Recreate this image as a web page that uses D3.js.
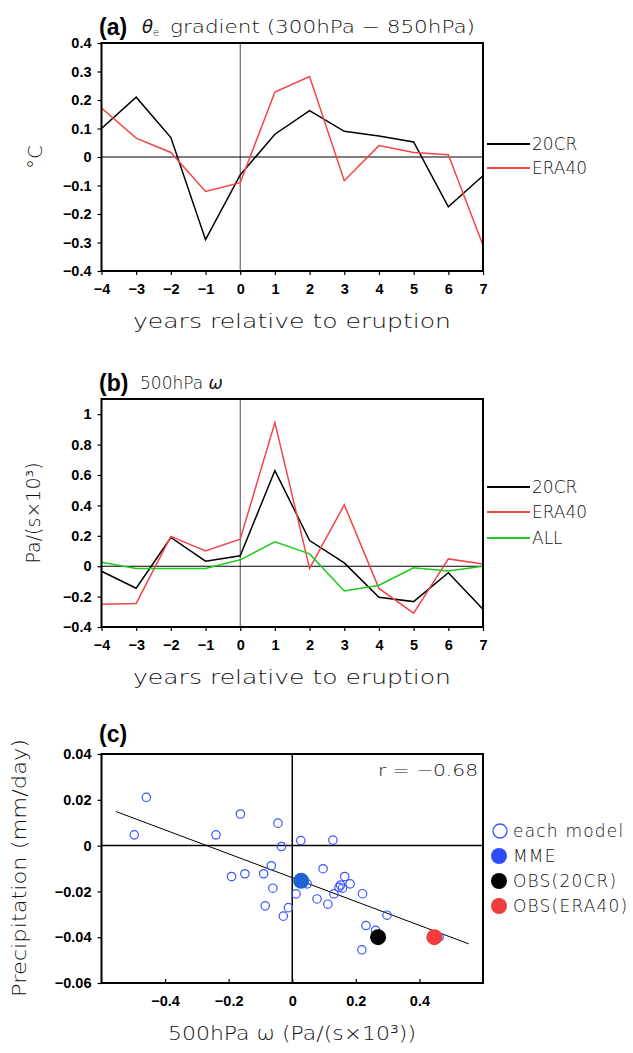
<!DOCTYPE html>
<html><head><meta charset="utf-8">
<script src="https://cdn.jsdelivr.net/npm/d3@7"></script>
<style>
body{margin:0;background:#fff;}
svg{display:block;}
.tick text{font-family:"Liberation Sans",Arial,sans-serif;font-weight:bold;font-size:14.5px;fill:#000;}
.lab{font-family:"DejaVu Sans",sans-serif;font-weight:200;fill:#111;}
</style></head>
<body>
<svg id="chart" width="633" height="1053"></svg>
<script>
// ---------- data ----------
const years = [-4,-3,-2,-1,0,1,2,3,4,5,6,7];
const a20CR  = [0.100, 0.210, 0.068, -0.290, -0.063, 0.080, 0.163, 0.090, 0.074, 0.053, -0.175, -0.066];
const aERA40 = [0.172, 0.066, 0.016, -0.121, -0.090, 0.228, 0.282, -0.083, 0.040, 0.016, 0.008, -0.310];
const b20CR  = [-0.033, -0.145, 0.189, 0.033, 0.068, 0.629, 0.169, 0.022, -0.204, -0.233, -0.043, -0.283];
const bERA40 = [-0.250, -0.245, 0.196, 0.101, 0.178, 0.945, -0.015, 0.404, -0.146, -0.309, 0.048, 0.015];
const bALL   = [0.026, -0.015, -0.015, -0.015, 0.042, 0.160, 0.081, -0.163, -0.125, -0.011, -0.031, 0.000];
const aTicks = [-0.4,-0.3,-0.2,-0.1,0,0.1,0.2,0.3,0.4];
const bTicks = [-0.4,-0.2,0,0.2,0.4,0.6,0.8,1];
const cXTicks = [-0.4,-0.2,0,0.2,0.4];
const cYTicks = [-0.06,-0.04,-0.02,0,0.02,0.04];
const modelOmega = [-0.459,-0.497,-0.163,-0.240,-0.045,-0.034,0.027,0.128,-0.066,0.097,-0.191,-0.149,-0.090,-0.061,0.047,0.165,0.182,0.152,0.147,0.158,0.221,0.131,0.012,0.078,0.112,-0.012,-0.085,-0.028,0.298,0.232,0.262,0.219,0.462];
const modelPrecip = [0.0211,0.0047,0.0138,0.0047,0.0098,-0.0004,0.0022,0.0024,-0.0088,-0.0101,-0.0135,-0.0123,-0.0123,-0.0186,-0.0167,-0.0135,-0.0167,-0.0172,-0.0182,-0.0186,-0.0210,-0.0211,-0.0211,-0.0233,-0.0256,-0.0271,-0.0263,-0.0308,-0.0304,-0.0349,-0.0370,-0.0455,-0.0400];
const mme = [0.028, -0.0154];
const obs20CR = [0.270, -0.0400];
const obsERA40 = [0.447, -0.0400];
const fitLine = [[-0.555, 0.0149], [0.555, -0.0429]];
const rText = "r = \u22120.68";

const svg = d3.select("#chart");
const L = 101.5, R = 483;
const RED = "#f24545", GREEN = "#1ccc1c", BLUE = "#3a55ff";

function lab(x, y, txt, size, opts = {}) {
  const t = svg.append("text").attr("class","lab").attr("x",x).attr("y",y)
    .attr("font-size",size).attr("text-anchor",opts.anchor||"start").text(txt);
  if (opts.len) t.attr("textLength",opts.len).attr("lengthAdjust","spacingAndGlyphs");
  if (opts.ls) t.attr("letter-spacing",opts.ls);
  if (opts.rot) t.attr("transform",`rotate(-90,${x},${y})`);
  return t;
}
function frame(top, bot) {
  svg.append("rect").attr("x",L).attr("y",top).attr("width",R-L).attr("height",bot-top)
    .attr("fill","none").attr("stroke","#000").attr("stroke-width",2);
}
function styleAxis(g){ g.select(".domain").remove(); g.selectAll(".tick line").attr("stroke","#000").attr("stroke-width",1.2); }
function panelTag(y, t){ svg.append("text").attr("x",99).attr("y",y).attr("font-family","Liberation Sans,Arial").attr("font-weight","bold").attr("font-size",23).text(t); }

// ---------- panel a / b line panels ----------
function linePanel(top, bot, ydom, ticks, series, fmt, legendY) {
  const x = d3.scaleLinear().domain([-4,7]).range([L,R]);
  const y = d3.scaleLinear().domain(ydom).range([bot,top]);
  svg.append("line").attr("x1",x(0)).attr("x2",x(0)).attr("y1",top).attr("y2",bot).attr("stroke","#333").attr("stroke-width",0.9);
  svg.append("line").attr("x1",L).attr("x2",R).attr("y1",y(0)).attr("y2",y(0)).attr("stroke","#000").attr("stroke-width",1.1);
  const line = d3.line().x((d,i)=>x(years[i])).y(d=>y(d));
  series.forEach(s => svg.append("path").datum(s.v).attr("d",line).attr("fill","none").attr("stroke",s.c).attr("stroke-width",1.5));
  const gx = svg.append("g").attr("transform",`translate(0,${bot})`)
    .call(d3.axisBottom(x).tickValues(years).tickSize(4).tickPadding(9).tickFormat(d=>d<0?"\u2212"+Math.abs(d):d));
  styleAxis(gx);
  const gy = svg.append("g").attr("transform",`translate(${L},0)`)
    .call(d3.axisLeft(y).tickValues(ticks).tickSize(4).tickPadding(6).tickFormat(fmt));
  styleAxis(gy);
  frame(top, bot);
  lab(292, bot+57, "years relative to eruption", 20, {anchor:"middle", len:318});
  series.forEach((s,i) => {
    const ly = legendY[i];
    svg.append("line").attr("x1",487).attr("x2",530).attr("y1",ly).attr("y2",ly).attr("stroke",s.c).attr("stroke-width",2.2);
    lab(532, ly+6, s.n, 17);
  });
}
const fmtA = d => d===0 ? "0" : (d<0?"\u2212":"") + Math.abs(d).toFixed(1);
const fmtB = d => d===0 ? "0" : (d===1?"1":(d<0?"\u2212":"") + Math.abs(d).toFixed(1));

// Panel (a)
panelTag(35, "(a)");
svg.append("text").attr("class","lab").attr("x",142).attr("y",33).attr("font-size",18)
  .html('<tspan font-style="italic">θ</tspan><tspan font-size="10" dy="3">e</tspan>');
lab(170, 33, "gradient (300hPa \u2212 850hPa)", 18, {len:305});
linePanel(43, 271, [-0.4,0.4], aTicks, [{v:a20CR,c:"#000",n:"20CR"},{v:aERA40,c:RED,n:"ERA40"}], fmtA, [144,168]);
lab(42, 157, "°C", 20, {anchor:"middle", rot:true});

// Panel (b)
panelTag(391, "(b)");
svg.append("text").attr("class","lab").attr("x",140).attr("y",389).attr("font-size",17)
  .html('500hPa <tspan font-style="italic">ω</tspan>');
linePanel(399, 627, [-0.4,1.1], bTicks, [{v:b20CR,c:"#000",n:"20CR"},{v:bERA40,c:RED,n:"ERA40"},{v:bALL,c:GREEN,n:"ALL"}], fmtB, [487,512,538]);
lab(40, 513, "Pa/(s×10³)", 19, {anchor:"middle", rot:true});

// Panel (c)
{
  const top = 754, bot = 983;
  const x = d3.scaleLinear().domain([-0.6,0.6]).range([L,R]);
  const y = d3.scaleLinear().domain([-0.06,0.04]).range([bot,top]);
  panelTag(742, "(c)");
  svg.append("line").attr("x1",x(0)).attr("x2",x(0)).attr("y1",top).attr("y2",bot).attr("stroke","#000").attr("stroke-width",1.5);
  svg.append("line").attr("x1",L).attr("x2",R).attr("y1",y(0)).attr("y2",y(0)).attr("stroke","#000").attr("stroke-width",1.5);
  svg.append("line").attr("x1",x(fitLine[0][0])).attr("y1",y(fitLine[0][1])).attr("x2",x(fitLine[1][0])).attr("y2",y(fitLine[1][1]))
    .attr("stroke","#000").attr("stroke-width",1);
  svg.append("g").selectAll("circle").data(modelOmega).join("circle")
    .attr("cx",d=>x(d)).attr("cy",(d,i)=>y(modelPrecip[i])).attr("r",4.2)
    .attr("fill","none").attr("stroke",BLUE).attr("stroke-width",1.2);
  svg.append("circle").attr("cx",x(mme[0])).attr("cy",y(mme[1])).attr("r",8).attr("fill","#1f62d4");
  svg.append("circle").attr("cx",x(obs20CR[0])).attr("cy",y(obs20CR[1])).attr("r",8).attr("fill","#000");
  svg.append("circle").attr("cx",x(obsERA40[0])).attr("cy",y(obsERA40[1])).attr("r",8).attr("fill","#f03c3c");
  const gx = svg.append("g").attr("transform",`translate(0,${bot})`)
    .call(d3.axisBottom(x).tickValues(cXTicks).tickSize(-4).tickPadding(13).tickFormat(d=>d===0?"0":(d<0?"\u2212":"")+Math.abs(d).toFixed(1)));
  styleAxis(gx);
  const gy = svg.append("g").attr("transform",`translate(${L},0)`)
    .call(d3.axisLeft(y).tickValues(cYTicks).tickSize(4).tickPadding(6).tickFormat(d=>d===0?"0":(d<0?"\u2212":"")+Math.abs(d).toFixed(2)));
  styleAxis(gy);
  frame(top, bot);
  lab(478, 776, rText, 16, {anchor:"end", len:100});
  lab(292, bot+57, "500hPa ω (Pa/(s×10³))", 20, {anchor:"middle", len:248});
  lab(26, 868, "Precipitation (mm/day)", 19, {anchor:"middle", rot:true, len:258});
  // legend
  const ly = [831, 856, 881, 906];
  svg.append("circle").attr("cx",500).attr("cy",ly[0]).attr("r",7).attr("fill","none").attr("stroke",BLUE).attr("stroke-width",1.3);
  svg.append("circle").attr("cx",499).attr("cy",ly[1]).attr("r",8).attr("fill","#2f4dff");
  svg.append("circle").attr("cx",499).attr("cy",ly[2]).attr("r",8).attr("fill","#000");
  svg.append("circle").attr("cx",499).attr("cy",ly[3]).attr("r",8).attr("fill","#f03c3c");
  const names = ["each model","MME","OBS(20CR)","OBS(ERA40)"];
  names.forEach((n,i)=> lab(513, ly[i]+6, n, 17, {ls: 1.2}));
}
</script>
</body></html>
